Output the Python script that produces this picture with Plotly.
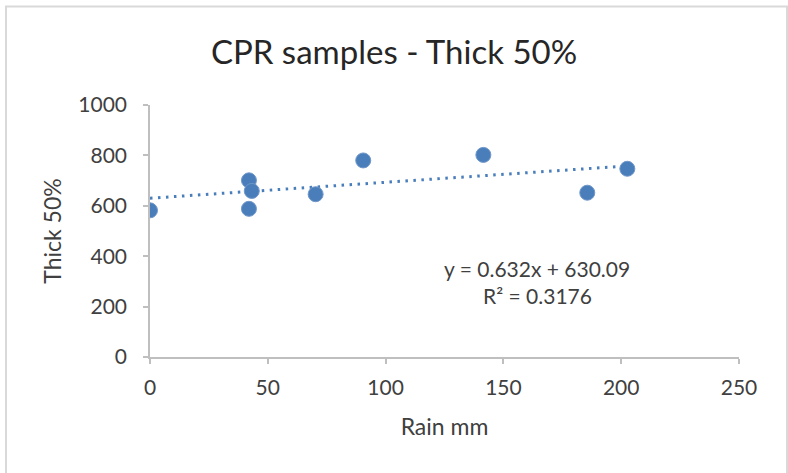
import plotly.graph_objects as go

# Data
rain_mm = [0, 42.0, 43.2, 42.0, 70.3, 90.5, 141.5, 185.6, 202.6]
thick_50 = [582, 701, 659, 588, 646, 780, 802, 652, 747]

# Linear trendline (as displayed on the chart)
slope = 0.632
intercept = 630.09
r_squared = 0.3176

x_ticks = [0, 50, 100, 150, 200, 250]
y_ticks = [0, 200, 400, 600, 800, 1000]

FONT = "Lato"
TXT = "#404040"
BLUE = "#4a7ebb"
AXIS = "#bfbfbf"

trend_x = [0, max(rain_mm)]
trend_y = [slope * v + intercept for v in trend_x]

fig = go.Figure()
fig.add_trace(go.Scatter(
    x=trend_x, y=trend_y, mode="lines",
    line=dict(color=BLUE, width=3, dash="2.5px,5.5px"),
    hoverinfo="skip", showlegend=False,
))
fig.add_trace(go.Scatter(
    x=rain_mm, y=thick_50, mode="markers",
    marker=dict(color=BLUE, size=15, line=dict(color="#6f97c9", width=1)),
    showlegend=False,
))

axis_common = dict(
    showgrid=False, zeroline=False, showline=True, linecolor=AXIS, linewidth=1.5,
    ticks="outside", ticklen=5, tickcolor=AXIS, tickwidth=1.5, automargin=False,
    tickfont=dict(family=FONT, size=21, color=TXT),
)

fig.update_layout(
    width=788, height=473,
    margin=dict(l=150, r=49, t=105, b=116),
    paper_bgcolor="white", plot_bgcolor="white",
    title=dict(text="CPR samples - Thick 50%", x=0.5, xanchor="center",
               y=1 - 52 / 473, yanchor="middle",
               font=dict(family=FONT, size=33, color="#262626")),
    xaxis=dict(range=[0, 250], tickvals=x_ticks,
               title=dict(text="Rain mm", font=dict(family=FONT, size=23, color=TXT), standoff=21),
               **axis_common),
    yaxis=dict(range=[0, 1000], tickvals=y_ticks,
               title=dict(text="Thick 50%", font=dict(family=FONT, size=23, color=TXT), standoff=10),
               **axis_common),
)
fig.update_yaxes(ticklabelstandoff=12)
fig.update_xaxes(ticklabelstandoff=6)

fig.add_annotation(text=f"y = {slope}x + {intercept}", xref="paper", yref="paper",
                   x=(537 - 150) / 589, y=(357 - 268) / 252, showarrow=False,
                   xanchor="center", yanchor="middle",
                   font=dict(family=FONT, size=21, color=TXT))
fig.add_annotation(text=f"R² = {r_squared}", xref="paper", yref="paper",
                   x=(537 - 150) / 589, y=(357 - 295) / 252, showarrow=False,
                   xanchor="center", yanchor="middle",
                   font=dict(family=FONT, size=21, color=TXT))

# chart border
fig.add_shape(type="rect", xref="paper", yref="paper",
              x0=(6 - 150) / 589, x1=(787 - 150) / 589,
              y0=(357 - 490) / 252, y1=(357 - 6.5) / 252,
              line=dict(color="#d9d9d9", width=2), fillcolor="rgba(0,0,0,0)", layer="below")

fig.write_html("out.html", config={"displayModeBar": False},
               post_script="document.body.style.margin='0';document.body.style.overflow='hidden';")
